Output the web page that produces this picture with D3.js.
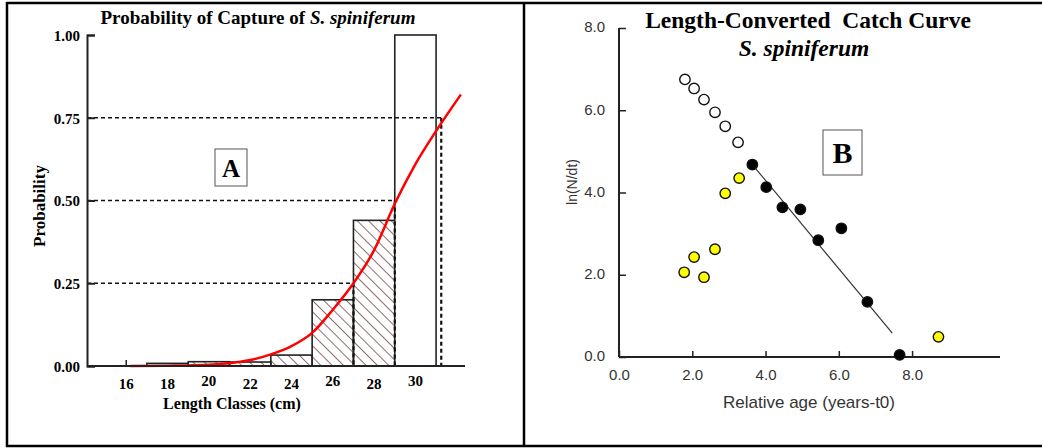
<!DOCTYPE html>
<html>
<head>
<meta charset="utf-8">
<script src="https://cdn.jsdelivr.net/npm/d3@7"></script>
<style>
  body { margin: 0; background: #fff; }
  svg { display: block; }
</style>
</head>
<body>
<div id="chart"></div>
<script>
// Panel A data
const lengthTicks = [16, 18, 20, 22, 24, 26, 28, 30];
const probTicks = [0, 0.25, 0.5, 0.75, 1];
const barStarts = [17, 19, 21, 23, 25, 27, 29];
const barProbs = [0.008, 0.013, 0.012, 0.033, 0.2, 0.44, 1.0];
const barHatched = [false, true, true, true, true, true, false];
const curveLengths = [16.2, 18, 20, 21, 22, 23, 24, 25, 26, 27, 28, 29, 30, 31, 32.2];
const curveProbs = [0, 0.001, 0.004, 0.008, 0.018, 0.035, 0.06, 0.1, 0.17, 0.25, 0.35, 0.49, 0.61, 0.71, 0.82];
const refProbs = [0.25, 0.5, 0.75];
const refLengths = [27, 29, 31.25];

// Panel B data
const ageTicks = [0, 2, 4, 6, 8];
const lnTicks = [0, 2, 4, 6, 8];
const openAge = [1.8, 2.05, 2.32, 2.62, 2.9, 3.25];
const openLn = [6.75, 6.53, 6.26, 5.95, 5.61, 5.22];
const usedAge = [3.64, 4.02, 4.46, 4.95, 5.44, 6.07, 6.78, 7.66];
const usedLn = [4.68, 4.13, 3.64, 3.59, 2.84, 3.13, 1.34, 0.05];
const yellowAge = [2.9, 3.28, 1.78, 2.05, 2.32, 2.62, 8.72];
const yellowLn = [3.98, 4.35, 2.06, 2.43, 1.94, 2.62, 0.49];
const fitAge = [3.64, 7.46];
const fitLn = [4.68, 0.58];

const width = 1042, height = 448;
const serif = "'Liberation Serif', 'Times New Roman', serif";
const sans = "'Liberation Sans', Arial, sans-serif";

const svg = d3.select("#chart").append("svg")
  .attr("width", width)
  .attr("height", height);

// hatch pattern
const defs = svg.append("defs");
const pat = defs.append("pattern")
  .attr("id", "hatch")
  .attr("patternUnits", "userSpaceOnUse")
  .attr("width", 8)
  .attr("height", 8)
  .attr("patternTransform", "rotate(-45)");
pat.append("line")
  .attr("x1", 0).attr("y1", 0).attr("x2", 0).attr("y2", 8)
  .attr("stroke", "#5e2e2e")
  .attr("stroke-width", 1.4);

// frame
svg.append("line").attr("x1", 6).attr("y1", 3).attr("x2", width).attr("y2", 3)
  .attr("stroke", "#000").attr("stroke-width", 2.5);
svg.append("line").attr("x1", 6).attr("y1", 446).attr("x2", width).attr("y2", 446)
  .attr("stroke", "#000").attr("stroke-width", 2.5);
svg.append("line").attr("x1", 7).attr("y1", 2).attr("x2", 7).attr("y2", 447)
  .attr("stroke", "#000").attr("stroke-width", 2.5);
svg.append("line").attr("x1", 524).attr("y1", 2).attr("x2", 524).attr("y2", 447)
  .attr("stroke", "#000").attr("stroke-width", 2.5);

// ---------------- Panel A ----------------
const xA = d3.scaleLinear().domain([14.1, 32.4]).range([87, 465]);
const yA = d3.scaleLinear().domain([0, 1]).range([366, 35]);
const gA = svg.append("g");

// bars
gA.selectAll(".bar")
  .data(barStarts)
  .join("rect")
  .attr("x", (d) => xA(d))
  .attr("y", (d, i) => yA(barProbs[i]))
  .attr("width", (d) => xA(d + 2) - xA(d))
  .attr("height", (d, i) => yA(0) - yA(barProbs[i]))
  .attr("fill", (d, i) => (barHatched[i] ? "url(#hatch)" : "#fff"))
  .attr("stroke", "#222")
  .attr("stroke-width", 1.6);

// dashed reference lines
refProbs.forEach((p, i) => {
  gA.append("line")
    .attr("x1", xA.range()[0]).attr("x2", xA(refLengths[i]))
    .attr("y1", yA(p)).attr("y2", yA(p))
    .attr("stroke", "#111").attr("stroke-width", 1.7)
    .attr("stroke-dasharray", "4,3");
  gA.append("line")
    .attr("x1", xA(refLengths[i])).attr("x2", xA(refLengths[i]))
    .attr("y1", yA(p)).attr("y2", yA(0))
    .attr("stroke", "#111").attr("stroke-width", 2.2)
    .attr("stroke-dasharray", "4,3");
});

// red curve
const curve = d3.line()
  .x((d, i) => xA(curveLengths[i]))
  .y((d, i) => yA(curveProbs[i]))
  .curve(d3.curveMonotoneX);
gA.append("path")
  .datum(curveLengths)
  .attr("d", curve)
  .attr("fill", "none")
  .attr("stroke", "#f00")
  .attr("stroke-width", 2.5);

// axes
const yAxisA = d3.axisRight(yA).tickValues(probTicks).tickSize(8).tickFormat(d3.format(".2f"));
const yAxisAGroup = gA.append("g").attr("transform", `translate(${xA.range()[0]},0)`).call(yAxisA);
yAxisAGroup.select(".domain").attr("stroke", "#222").attr("stroke-width", 2);
yAxisAGroup.selectAll(".tick line").attr("stroke", "#222").attr("stroke-width", 2);
yAxisAGroup.selectAll(".tick text")
  .attr("x", -7).attr("dy", "0.35em")
  .attr("text-anchor", "end")
  .attr("font-family", serif).attr("font-weight", "bold").attr("font-size", 15)
  .attr("fill", "#000");

gA.append("line")
  .attr("x1", xA.range()[0]).attr("x2", xA.range()[1])
  .attr("y1", yA(0)).attr("y2", yA(0))
  .attr("stroke", "#222").attr("stroke-width", 2);
gA.append("line")
  .attr("x1", xA(16)).attr("x2", xA(16))
  .attr("y1", yA(0) - 6).attr("y2", yA(0))
  .attr("stroke", "#222").attr("stroke-width", 1.5);

gA.selectAll(".xlab")
  .data(lengthTicks)
  .join("text")
  .attr("x", (d) => xA(d))
  .attr("y", (d) => (d === 20 || d === 26 || d === 30 ? 386 : 389))
  .attr("text-anchor", "middle")
  .attr("font-family", serif).attr("font-weight", "bold").attr("font-size", 15)
  .text((d) => d);

gA.append("text")
  .attr("x", 232).attr("y", 409)
  .attr("text-anchor", "middle")
  .attr("font-family", serif).attr("font-weight", "bold").attr("font-size", 16)
  .text("Length Classes (cm)");

gA.append("text")
  .attr("transform", "translate(45,206) rotate(-90)")
  .attr("text-anchor", "middle")
  .attr("font-family", serif).attr("font-weight", "bold").attr("font-size", 17)
  .text("Probability");

const titleA = gA.append("text")
  .attr("x", 258).attr("y", 24)
  .attr("text-anchor", "middle")
  .attr("font-family", serif).attr("font-weight", "bold").attr("font-size", 19);
titleA.append("tspan").text("Probability of Capture of ");
titleA.append("tspan").attr("font-style", "italic").text("S. spiniferum");

gA.append("rect")
  .attr("x", 215).attr("y", 149).attr("width", 32).attr("height", 37)
  .attr("fill", "#fff").attr("stroke", "#555").attr("stroke-width", 1);
gA.append("text")
  .attr("x", 231).attr("y", 177)
  .attr("text-anchor", "middle")
  .attr("font-family", serif).attr("font-weight", "bold").attr("font-size", 25)
  .text("A");

// ---------------- Panel B ----------------
const xB = d3.scaleLinear().domain([0, 10.4]).range([619, 1000]);
const yB = d3.scaleLinear().domain([0, 8]).range([357, 28]);
const gB = svg.append("g");

const xAxisB = d3.axisTop(xB).tickValues(ageTicks).tickSize(6).tickFormat(d3.format(".1f"));
const xAxisBGroup = gB.append("g").attr("transform", `translate(0,${yB(0)})`).call(xAxisB);
xAxisBGroup.select(".domain").attr("stroke", "#222").attr("stroke-width", 2).attr("d", `M${xB.range()[0]},0H${xB.range()[1]}`);
xAxisBGroup.selectAll(".tick line").attr("stroke", "#222").attr("stroke-width", 1.5);
xAxisBGroup.selectAll(".tick text")
  .attr("y", 23).attr("dy", 0)
  .attr("font-family", sans).attr("font-size", 15)
  .attr("fill", "#333");

const yAxisB = d3.axisRight(yB).tickValues(lnTicks).tickSize(7).tickFormat(d3.format(".1f"));
const yAxisBGroup = gB.append("g").attr("transform", `translate(${xB.range()[0]},0)`).call(yAxisB);
yAxisBGroup.select(".domain").attr("stroke", "#222").attr("stroke-width", 2).attr("d", `M0,${yB.range()[1]}V${yB.range()[0]}`);
yAxisBGroup.selectAll(".tick text")
  .attr("x", -14).attr("dy", "0.25em")
  .attr("text-anchor", "end")
  .attr("font-family", sans).attr("font-size", 15)
  .attr("fill", "#333");
yAxisBGroup.selectAll(".tick line").attr("stroke", "#222").attr("stroke-width", 1.5);

gB.append("text")
  .attr("x", 809).attr("y", 408)
  .attr("text-anchor", "middle")
  .attr("font-family", sans).attr("font-size", 17)
  .attr("fill", "#333")
  .text("Relative age (years-t0)");

gB.append("text")
  .attr("transform", "translate(577,182) rotate(-90)")
  .attr("text-anchor", "middle")
  .attr("font-family", sans).attr("font-size", 14)
  .attr("fill", "#333")
  .text("ln(N/dt)");

gB.append("text")
  .attr("x", 808).attr("y", 28)
  .attr("text-anchor", "middle")
  .attr("xml:space", "preserve")
  .style("white-space", "pre")
  .attr("font-family", serif).attr("font-weight", "bold").attr("font-size", 23.5)
  .text("Length-Converted  Catch Curve");
gB.append("text")
  .attr("x", 804).attr("y", 56)
  .attr("text-anchor", "middle")
  .attr("font-family", serif).attr("font-weight", "bold").attr("font-style", "italic").attr("font-size", 23.5)
  .text("S. spiniferum");

gB.append("rect")
  .attr("x", 823).attr("y", 130).attr("width", 39).attr("height", 45)
  .attr("fill", "#fff").attr("stroke", "#555").attr("stroke-width", 1);
gB.append("text")
  .attr("x", 842.5).attr("y", 163)
  .attr("text-anchor", "middle")
  .attr("font-family", serif).attr("font-weight", "bold").attr("font-size", 30)
  .text("B");

// regression line
gB.append("line")
  .attr("x1", xB(fitAge[0])).attr("y1", yB(fitLn[0]))
  .attr("x2", xB(fitAge[1])).attr("y2", yB(fitLn[1]))
  .attr("stroke", "#333").attr("stroke-width", 1.2);

function dots(ages, lns, fill) {
  gB.append("g")
    .selectAll("circle")
    .data(ages)
    .join("circle")
    .attr("cx", (d) => xB(d))
    .attr("cy", (d, i) => yB(lns[i]))
    .attr("r", 5.2)
    .attr("fill", fill)
    .attr("stroke", "#111")
    .attr("stroke-width", 1.4);
}
dots(openAge, openLn, "#fff");
dots(usedAge, usedLn, "#000");
dots(yellowAge, yellowLn, "#ffff00");
</script>
</body>
</html>
